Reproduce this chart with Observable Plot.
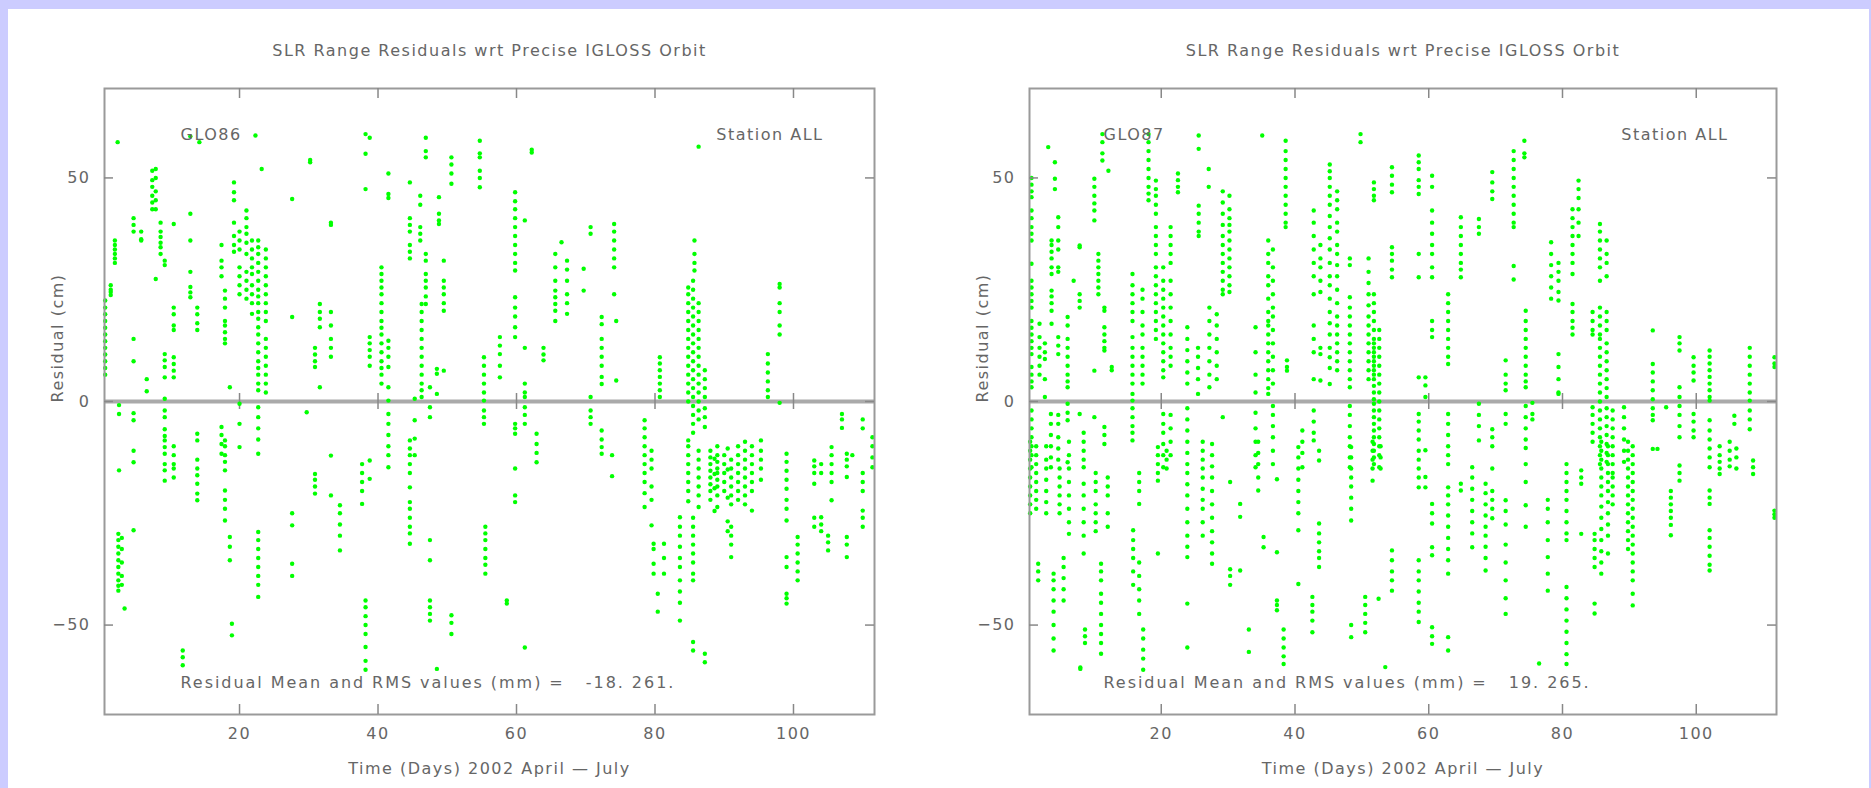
<!DOCTYPE html>
<html><head><meta charset="utf-8">
<script src="https://cdn.jsdelivr.net/npm/d3@7"></script>
<script src="https://cdn.jsdelivr.net/npm/@observablehq/plot@0.6"></script>
<style>
html,body{margin:0;padding:0;background:#ccccff;width:1871px;height:788px;overflow:hidden;}
#panel{position:absolute;left:8px;top:9px;width:1861px;height:779px;background:#fff;}
#left,#right{position:absolute;top:9px;}
#left{left:8px;} #right{left:935px;}
svg text{letter-spacing:1.5px;}
</style></head><body>
<div id="panel"></div>
<div id="left"></div><div id="right"></div>
<script>
// ---- data ----
const chartTitle = "SLR Range Residuals wrt Precise IGLOSS Orbit";
const xAxisLabel = "Time (Days) 2002 April \u2014 July";
const yAxisLabel = "Residual (cm)";
const xTicks = [20, 40, 60, 80, 100];
const yTicks = [50, 0, -50];
const yTickLabels = ["50", "0", "\u221250"];
const satellites = ["GLO86", "GLO87"];
const meanRms = ["-18. 261.", "19. 265."];

// passes: [day, residual values (cm) ...]
const glo86Passes = [
 [0.6, 22.6, 21, 19.5, 18, 16.5, 15, 13.5, 12, 10.5, 9, 7.5, 6],
 [1.4, 26, 25, 24.5, 23.8],
 [2.0, 36, 35, 34, 33, 32, 31],
 [2.4, 58],
 [2.6, -0.8, -2.8, -15.4],
 [2.5, -29.6, -31, -32.5, -34, -35.5, -37, -38.5, -40, -41.2, -42.3],
 [3.0, -30.5, -33, -36, -39, -41],
 [3.4, -46.3],
 [4.7, 41, 39.5, 38, 14, 9, -2.6, -4.2, -11, -13.6, -28.8],
 [5.8, 38, 36.3, 36],
 [6.6, 5, 2.3],
 [7.4, 51.6, 49.5, 48, 46, 44.5, 43],
 [7.9, 52, 50, 47, 45, 43, 27.4],
 [8.6, 40, 38, 36.8, 35.5, 34.5, 33],
 [9.2, 31.5, 30.5, 10.6, 9.2, 7.7, 5.4, 0.6, -2, -3.5, -6.2, -7.7, -8.7, -10.2, -11.7, -14, -15.4, -17.7],
 [10.5, 39.7, 21, 19.5, 17, 16, 9.9, 8.4, 6.9, 5.4, -10, -12, -14, -15, -17],
 [11.8, -55.7, -57.2, -59],
 [12.9, 59.3, 42, 36, 29, 25.6, 24.4, 23.3],
 [13.9, 21, 19.5, 17.5, 16, -7.2, -8.7, -13, -15, -16.5, -18.4, -20.6, -22.1],
 [14.2, 58],
 [17.4, 35, 31.5, 30, 28, -5.7, -7.5, -9.5, -11.7],
 [17.9, 24.8, 23, 21, 18, 17, 15.5, 14, 13, -8.7, -10, -12, -13.5, -15.4, -19.9, -22, -24, -26.6],
 [18.6, 3.2, -30.3, -32.5, -35.5],
 [18.9, -49.7, -52.3],
 [19.2, 49, 46.8, 45, 40, 37, 35, 33.5],
 [20.0, 38, 36, 34, 30, 28, 26, 24, -0.5, -5, -10.2],
 [21.0, 42.7, 41, 39, 37.5, 35.5, 33, 29, 27, 25, 23],
 [21.8, 36, 34, 32, 30, 28.5, 26, 24, 22, 19.6],
 [22.3, 59.5],
 [22.7, 36, 34.5, 33, 31, 29, 27, 25, 23.5, 22, 20, 18.5, 16.6, 15, 13, 11, 9, 7.5, 6, 4, 2.5, -1.3, -3.5, -6, -8.5, -11.7, -29.2, -31, -33, -35, -37, -39, -41, -43.7],
 [23.2, 52],
 [23.8, 34, 32, 30, 28, 26, 24, 22, 20, 18, 14, 12, 10, 8, 6, 4, 2],
 [27.6, 45.3, 18.9, -25, -27.7, -36.3, -39],
 [29.7, -2.4],
 [30.2, 53.5, 54],
 [30.9, 12, 10.5, 9, 7.7, -16.2, -17.5, -19, -20.6],
 [31.6, 21.8, 20, 18.5, 16.6, 3.2],
 [33.2, 40, 39.5, 20, 17, 14, 12, 10, -12.1, -21],
 [34.5, -23.2, -25, -27.5, -30, -33.3],
 [37.7, -14, -16, -18, -20, -22.9],
 [38.2, 59.8, 55.4, 47.5, -44.5, -46, -48, -50, -52, -54.9, -58, -60],
 [38.8, 59, 14.4, 13, 11.5, 10, 8, -13.2, -17.3],
 [40.5, 30, 28.5, 27, 25.5, 24, 22, 20, 18, 16.5, 15, 13, 11, 9, 7.5, 6, 4],
 [41.5, 51, 46.4, 45.5, 13.6, 12, 10, 7.7, 3.2, 0.2, -2.8, -5, -7.5, -10, -12, -14.7],
 [44.6, 49, 41, 39.5, 38, 35, 33.5, 32, -8.7, -10.5, -12, -14, -16, -19.2, -22.5, -24, -26, -28, -29.5, -31.8],
 [45.3, 0.6, -4.2, -8.3, -12],
 [46.1, 46, 44, 39, 37.5, 36],
 [46.3, 21.8, 20, 18, 16, 14, 12, 10, 8, 6, 4, 2.5, 1],
 [46.9, 59, 56, 54.6, 33, 31.5, 28.5, 27, 25.5, 23.5, 21.8],
 [47.5, 3.2, -1.3, -3.5, -31, -35.5, -44.5, -46, -47.5, -49],
 [48.5, 7.3, 6.2, 1.7, -59.8],
 [48.8, 45.7, 42, 40.5, 39.7],
 [49.5, 31.5, 27, 25.5, 24, 22, 20.3, 6.9],
 [50.6, 54.6, 53, 51, 48.7, -47.8, -49.5, -52],
 [54.7, 58.3, 55.5, 54.6, 51.6, 50, 47.9],
 [55.3, 9.9, 8, 6, 4, 2, 0.2, -2, -3.5, -5],
 [55.5, -28, -29.5, -31, -33, -35, -36.5, -38.5],
 [57.6, 14.4, 12.5, 10.6, 8, 5.4],
 [58.6, -44.5, -45.2],
 [59.8, 46.8, 44.8, 43, 41, 39, 37, 35, 33, 31, 29.3, 23.3, 21, 19, 16.6, 14.4, -5, -6, -7.2, -15, -21, -22.5],
 [61.2, 40.5, 12, 4, 2, 1, -1.3, -3, -5, -55],
 [62.2, 55.7, 56.3],
 [62.9, -7.2, -9.5, -11.5, -13.6],
 [63.9, 12, 10.5, 9.2],
 [65.6, 33, 30, 27, 24.8, 23.3, 21.8, 20.3, 18],
 [66.5, 35.6],
 [67.3, 31.5, 29.5, 27, 24, 22, 19.6],
 [69.7, 29.7, 24.8],
 [70.7, 39, 37.5, 1, -2, -3.5, -5],
 [72.3, 18.9, 17.3, 14, 12, 10, 8, 5.5, 3.9, -6.5, -8.5, -10.2, -11.7],
 [73.8, -12, -16.7],
 [74.1, 39.7, 38, 36, 34, 32, 30, 24],
 [74.4, 18, 4.7],
 [78.5, -4.2, -6, -8, -10, -12, -14, -16, -18, -20.5, -23.6],
 [79.5, -11, -13, -15, -19, -22, -27.7],
 [79.8, -31.8, -33, -36.3, -38.5],
 [80.4, -43, -47],
 [80.7, 9.9, 8.5, 7, 5.5, 4, 2.5, 1],
 [81.3, -31.8, -35, -38.5],
 [83.6, -25.9, -28, -30, -32.5, -35, -37, -40, -42.5, -45, -49],
 [84.8, 25.5, 24, 22, 20, 18, 16, 14, 12, 10, 8, 6, 4, 2, 0, -8.7, -10, -12, -14, -16, -18, -20, -22.3],
 [85.5, 27, 25, 23, 21, 19, 17, 15, 13, 11, 9, 7, 5, 3, 1, -1, -3, -5, -7, -26, -28, -30, -32, -34, -36, -38.5, -40, -53.8, -55.7],
 [85.7, 36, 33, 31, 29.3],
 [86.3, 57, 22, 20, 18, 16, 14, 12, 10, 8, 6, 4, 2, 0, -2, -4, -11, -13, -15, -17, -19, -21, -23.6],
 [87.2, 7, 5, 3, 1, -1.5, -3.5, -5.7, -56.4, -58.3],
 [88, -11, -12.5, -14, -15.5, -17, -18.5, -20, -22],
 [88.6, -12.8, -16.2, -19.4, -24.5],
 [89, -10, -12, -13.5, -15, -16, -17.5, -19, -21, -23.6],
 [90, -12, -14, -16, -18, -20],
 [90.5, -10.5, -15.2, -21.5, -26.8, -29],
 [91, -13, -15, -17, -19, -21, -23, -28, -30, -32, -34.8],
 [92, -10, -12, -14, -16, -18, -20, -22],
 [93, -9, -11, -13, -15, -17, -19, -21, -23],
 [94, -10, -12, -14, -16, -18, -20, -24.4],
 [95.3, -8.7, -11, -13, -15, -17.5],
 [96.3, 10.6, 8.5, 6.5, 4.5, 2.5, 1],
 [98, 26.3, 25.5, 22, 20, 17, 15, -0.3],
 [99, -11.7, -13.5, -15.5, -17.5, -19.5, -22, -24, -26.6, -34.8, -37, -43, -44, -45.2],
 [100.6, -30.3, -32, -34, -36, -38, -40],
 [103, -13.2, -14.5, -16, -18.4, -26, -28],
 [104, -14, -16, -25.9, -27.5, -29],
 [105, -30, -31.5, -33.3],
 [105.5, -10.2, -12, -14, -16, -18, -22.1],
 [107, -2.8, -4, -5.9],
 [107.7, -11.7, -13, -14.5, -16.9, -30.3, -32, -34.8],
 [108.5, -12],
 [110, -4, -6, -16, -18, -20, -24.4, -26, -28],
 [111.4, -8, -10, -12.5, -14.7]
];

const glo87Passes = [
 [0.6, 50, 48.5, 47, 45.7, 42.7, 41, 39, 37.5, 36, 30.8, 27, 25.5, 24, 22.5, 21, 18, 16.5, 15, 13.5, 12, 10.6, 7.7, 6, 4.5, 3.2, -2, -4, -6, -8, -10, -12, -14.7],
 [0.4, -9, -11, -13, -15, -17, -19, -21, -23, -25],
 [1.3, -10, -12, -14, -16, -18, -20, -22, -24],
 [1.6, -36.3, -38, -40],
 [1.8, 17.4, 14.4, 12, 10, 8, 6],
 [2.6, 13, 11, 9.5, 5, 1],
 [2.8, -10, -13, -15, -17.5, -20, -22.5, -25],
 [3.1, 56.9],
 [3.5, -2.8, -5, -7.5, -10, -12.5, -14.7],
 [3.6, 36, 35, 33.5, 32, 30, 28.5, 24.8, 23.5, 22, 20.3, 17.4],
 [3.9, -38.5, -40, -42, -44.5, -47, -50, -53, -55.7],
 [4.1, 53.5, 49.8, 47.5],
 [4.6, 41.2, 39, 36, 34, 30, 29, 14.4, 12.5, 10.6, -3, -5, -8, -10.5, -13],
 [4.8, -15, -17, -19, -21, -23, -25],
 [5.4, -35, -37, -39.5, -42, -44.5],
 [6.0, 18.9, 17, 14, 12, 10, 8, 6, 4.5, 3.2, -0.5, -2.5, -4.2, -13.6],
 [6.2, -9, -12, -15, -18, -21, -24, -27, -29.6],
 [6.9, 27],
 [7.8, 34.9, 34.5, 24, 22.5, 21, -2.8],
 [7.9, -59.8, -59.5],
 [8.4, -7, -9, -11, -13, -14.7, -18.4, -21, -24, -27, -30, -34],
 [8.6, -51, -52.5, -54],
 [10.0, 49.8, 48, 46, 44.3, 42.7, 40.5, 6.9, -3.5],
 [10.2, -16, -18, -20, -23, -25, -27, -29],
 [10.6, 33, 31.5, 30, 28.5, 27, 25.5, 24],
 [11.0, -36.3, -38, -40, -43, -45, -47.5, -50, -52, -54, -56.4],
 [11.2, 59.8, 58, 55.5, 53.9],
 [11.5, 21, 20.3, 16.6, 15, 13.5, 12, 11.4, -5.7, -7.5, -9.5],
 [12.0, -17, -19, -21, -25, -28],
 [12.1, 51.6],
 [12.6, 7.7, 7],
 [15.7, 28.5, 26, 24, 22, 20, 18, 14.4, 12, 10, 8, 6, 4, 1.7, 0.2, -1.5, -3.5, -5.5, -7, -8.7],
 [15.8, -28.8, -31, -33, -35, -38, -41],
 [16.7, -16, -18, -20, -22.9, -36, -39, -42, -44.5, -47.5],
 [17.2, 25, 23, 20, 17, 15, 12, 10, 8, 6, 4],
 [17.3, -51, -53, -55.5, -57.5, -60],
 [18.1, 59.8, 58, 56, 54, 52, 50, 48, 46.5, 45],
 [19.2, 49.4, 47.5, 46, 44, 42, 39, 37, 35, 33, 30, 28, 26, 24, 22, 20, 18, 16, 14],
 [19.5, -10.2, -12, -14, -16, -17.7, -34],
 [20.3, 30, 27, 25, 23, 21, 19, 17, 15, 13, 11, 9, 7, 5.4, -2.8, -5, -7, -9.5, -12, -14.7],
 [20.8, -11, -13, -15],
 [21.4, 39, 37, 35, 33, 31, 27, 24, 21, 18, 15, 12, 10, 8, -3, -6, -9, -12],
 [22.5, 51, 49.5, 48, 46.8],
 [23.9, 16.6, 14, 11.5, 9, 6.5, 4, -1.5, -4, -6.5, -9, -11.5, -14, -16, -18.5, -21, -24, -27, -30, -32.5, -34.8, -45.2, -55],
 [25.5, 12, 10, 7.5, 5, 1.7],
 [25.6, 59.5, 56.5, 43.8, 42, 40, 38, 37],
 [26.2, -9, -11, -13, -15, -17, -19.5, -22, -24, -27, -30],
 [27.1, 52, 48],
 [27.2, 21, 18, 15, 12, 9, 6, 3.2],
 [27.6, -9.5, -12, -14.5, -17, -20, -23, -26, -29, -31.5, -34, -36.3],
 [28.3, 19.5, 17, 14, 11, 8, 5],
 [29.2, 47, 44.5, 42, 39.5, 37, 35, 33, 31, 29, 27, 25, 24, -3.5],
 [30.2, 46, 43, 41, 39.5, 38, 36, 34, 32, 30, 28, 26, 24.5],
 [30.3, -18, -37.5, -39, -41],
 [31.8, -22.9, -25.8, -37.8],
 [33.1, -51, -56],
 [34.1, 16.6, 11, 6, 2, -2.5, -6, -9, -12, -14.7],
 [34.5, -9, -11.5, -14, -17, -19.9],
 [35.1, 59.5],
 [35.3, -30.3, -32.6],
 [36.0, 36, 33, 31, 28, 26, 23, 20, 18, 17, 15, 13, 11, 9, 7, 5, 3, 1.7],
 [36.7, 34, 30, 27, 24, 21, 19, 16, 13, 10, 7, 4, -1, -3, -5.5, -8, -11, -14],
 [37.3, -17.4, -33.7, -44.5, -45.5, -46.7],
 [38.3, -51, -53, -55, -57, -58.7],
 [38.6, 58.3, 56, 54, 52, 50, 48, 46, 44, 42, 40, 39],
 [38.8, 9.2, 7.7, 6.9],
 [40.5, -10.2, -12.5, -15, -17.5, -20, -22.5, -25, -28.8, -40.8],
 [41.1, -6.5, -9, -11.5, -14.7],
 [42.6, -43.7, -45.5, -47, -49, -51.6],
 [42.8, 42.7, 40, 37, 34, 31, 28, 24, 17, 14, 11, 5, -2, -4.5, -7, -8.7],
 [43.6, -11, -13.2, -27.3, -29.5, -31.5, -33.5, -35, -37],
 [43.8, 35, 32, 30, 27, 24.5, 12, 10.6, 4.7],
 [45.2, 53, 51.5, 50, 48, 46, 44, 41.5, 39, 36.5, 34, 31, 28, 26, 23, 20, 17.5, 15, 12, 9.9, 7.5, 3.9],
 [46.3, 47, 45, 43, 40, 38, 35, 33, 30.5, 28, 25, 22, 19, 17, 15, 13, 11, 9, 7],
 [48.2, 32, 30.5, 23.3, 21, 19, 17, 15, 13, 11, 9, 7, 5, 3.2, -1, -3, -5.5, -8, -10, -12.5, -14.7],
 [48.4, -10.2, -12.5, -15, -17, -19, -21.5, -24, -26.6, -50, -52.7],
 [49.8, 59.8, 58],
 [50.5, -43.7, -45.5, -47.5, -49.5, -51.6],
 [51.0, 32, 29, 26.5, 24, 21.5, 19, 17, 15, 13, 11, 9, 7, 5],
 [51.6, -9, -11, -13, -15, -17.7],
 [51.8, 49, 47.5, 46, 45, 24, 22, 20, 18, 16, 14, 13, 12, 11, 10, 9, 8, 7, 6, 5, 3.5, 2, 0.5, -0.5, -2, -3.5, -5, -6.5, -8, -9.5, -11, -12.5, -14],
 [52.5, -44.1],
 [52.6, 16, 14, 12, 10, 8, 6, 4, 2, 0, -2, -4, -6, -8, -10, -12, -14.7],
 [52.8, -10, -12.5, -15],
 [53.5, -59.4],
 [54.5, 52.4, 50.5, 48.5, 46.8, 34.5, 33, 31.5, 29.5, 27.8, -33.3, -35.5, -38, -40, -42.3],
 [58.5, 55, 53.5, 52, 49.5, 48, 46.4, 33, 27.8, 5.4, -2.8, -4.5, -6.5, -8.5, -11, -13, -15, -17, -19.2, -35.5, -38, -40, -42.5, -45, -47, -49.3],
 [59.5, 5.4, 3.6, 1, -10.9, -16.9, -19.2],
 [60.5, 50.5, 48, 42.7, 40, 37.5, 35, 33, 30, 27.8, 18, 16, 14.4, -22.9, -25, -27.3, -32.6, -34.4, -50.5, -52.5, -54.2],
 [62.9, 24, 22, 20, 18, 16, 14, 12, 10, 8.4, -2.8, -5, -7.5, -10, -12, -14, -19.2, -21, -23, -25.5, -28, -30.5, -33, -35.5, -38.5, -52.7, -55.7],
 [64.8, 41.2, 39, 37, 35, 33, 31, 29.5, 27.8, -18.4, -19.9],
 [66.5, -14.7, -17, -19.5, -22, -24.5, -27, -29.5, -32.6],
 [67.5, 40.8, 39, 37.5, -0.5, -3, -5.5, -8.7],
 [68.5, -18.4, -20.5, -23, -25.5, -28, -30, -32.5, -35, -37.8],
 [69.5, 51.3, 49, 47, 45.3, -6.2, -8, -10, -15, -20, -22, -24, -26.1],
 [71.5, 9.2, 6, 4, 2.5, -2.8, -5, -22.1, -24.5, -27.5, -32, -36, -40, -44, -47.5],
 [72.7, 56, 54, 52, 50, 48, 46, 44, 42, 40, 39, 30.3, 27.3],
 [74.3, 58.3, 55.5, 54.6],
 [74.5, 20.3, 18, 16, 14, 12, 10, 8, 6, 4.5, 3.2, -1, -3.5, -6, -8.5, -10.4, -14, -18, -23.2, -28],
 [75.5, -0.3, -2.8, -4],
 [76.5, -58.6],
 [77.8, -22, -24, -27, -31, -34.8, -38.5, -42.3],
 [78.3, 35.6, 33, 30.5, 28, 25.5, 23],
 [79.4, 31, 29, 27, 24.5, 22.6, 10.6, 7.7, 5, 2, 1.7],
 [80.6, -14, -16, -18, -20, -22, -24.5, -27, -29.5, -31, -41.5, -44, -46.5, -49, -51.5, -54, -56.5, -58.7],
 [81.5, 43, 41, 39, 37, 35, 33, 31, 28.5, 21.8, 20, 18, 16.5, 15],
 [82.4, 49.4, 47.5, 45.5, 43, 40, 37],
 [82.8, -15.4, -17, -18.4, -29.6],
 [84.5, 20, 18, 16, 15, -1.3, -3, -5, -7, -9],
 [84.8, -29.6, -31, -33, -35, -37, -45.2, -47.4],
 [85.6, 39.7, 38, 36, 34, 32, 30, 27, 21, 19, 17, 15, 14, 12, 10, 8, 6, 4, 2, 0, -2, -4, -6, -8, -10, -12, -14],
 [85.8, -9, -11, -13, -15, -17, -19, -21, -23.5, -26, -28.5, -31, -33.5, -36, -38.5],
 [86.6, 36, 33, 31, 28, 20, 18, 16, 13, 11, 9, 7, 5, 3, 1, -1.5, -3.5, -5.5, -7.5, -9.5, -11.5, -13.5],
 [86.8, -10, -12, -14, -16, -18, -20, -22.5, -25, -27.5, -30, -34],
 [87.5, -2, -4, -6, -8, -10, -12, -14, -16, -17, -19, -21, -23],
 [89.2, -1.3, -3.5, -6, -8.5, -11, -13.5],
 [89.8, -9, -11, -13, -15, -17, -19, -21, -23, -25, -27, -29, -31, -33],
 [90.5, -10, -12, -14, -16, -18, -20, -22, -24, -26, -28, -30, -32, -34, -36, -38, -40, -43, -45.6],
 [93.5, 15.9, 8.4, 6.5, 4.5, 2.5, 0.5, -1.5, -3, -4.2, -10.6],
 [94.2, -10.6],
 [95.5, -1.3],
 [96.2, -20, -21.5, -23, -24.5, -26, -27.6, -29.9],
 [97.5, 14.4, 13, 11.4, 3.2, 1, -1, -3, -5.5, -8, -14.3, -16, -17.7],
 [99.6, 9.9, 8, 6.5, 4.7, -2.8, -4.5, -6.5, -8],
 [102, 11.4, 10, 8.5, 7, 5.5, 4, 2.5, 1, 0.2, -4.2, -6.5, -8.5, -10.5, -12.5, -14.7, -19.9, -21.5, -22.9, -28.8, -30.5, -32.5, -34.5, -36.5, -37.8],
 [103.5, -10, -12, -13.5, -15, -16.2],
 [105, -9, -11, -13, -14.5],
 [105.7, -3.2, -5],
 [106, -10.5, -12.5, -15],
 [108, 12, 10, 8, 6, 4, 2, 0.2, -2, -4, -6.2],
 [108.5, -13.2, -14.7, -16.2],
 [111.7, 9.9, 8.5, 7.7, -24.4, -25.2, -26]
];

// ---- drawing ----
const H = 779, MT = 79, MB = 74;
const yDomain = [-70, 70];
const FONT = "DejaVu Sans, sans-serif";
const TXT = "#666";
const STAT_PREFIX = "Residual Mean and RMS values (mm) =   ";

function panel(passes, cfg) {
  const data = passes.flatMap(([day, ...vals]) => vals.map(v => ({day, res: v})));
  const [xa, xb] = cfg.xDomain;
  const innerW = cfg.width - cfg.ml - cfg.mr;
  const innerH = H - MT - MB;
  const pxX = innerW / (xb - xa), pxY = innerH / (yDomain[1] - yDomain[0]);
  const tlx = 9 / pxX, tly = 10 / pxY, tlz = 8 / pxY;
  const t = {fill: TXT, fontSize: 16, fontFamily: FONT};
  const svg = Plot.plot({
    width: cfg.width, height: H,
    marginLeft: cfg.ml, marginRight: cfg.mr, marginTop: MT, marginBottom: MB,
    x: {domain: cfg.xDomain, axis: null},
    y: {domain: yDomain, axis: null},
    style: {background: "transparent", overflow: "visible"},
    marks: [
      Plot.ruleY([0], {stroke: "#aaa", strokeWidth: 4}),
      Plot.ruleX(xTicks, {x: d => d, y1: () => -tlz, y2: () => tlz, stroke: "#888", strokeWidth: 1.5}),
      Plot.dot(data, {x: "day", y: "res", r: 2.2, fill: "#00ff00"}),
      Plot.frame({stroke: "#9a9a9a", strokeWidth: 2}),
      Plot.ruleX(xTicks, {x: d => d, y1: () => yDomain[0], y2: () => yDomain[0] + tly, stroke: "#888", strokeWidth: 1.5}),
      Plot.ruleX(xTicks, {x: d => d, y1: () => yDomain[1], y2: () => yDomain[1] - tly, stroke: "#888", strokeWidth: 1.5}),
      Plot.ruleY(yTicks, {y: d => d, x1: () => xa, x2: () => xa + tlx, stroke: "#888", strokeWidth: 1.5}),
      Plot.ruleY(yTicks, {y: d => d, x1: () => xb, x2: () => xb - tlx, stroke: "#888", strokeWidth: 1.5}),
      Plot.text(xTicks, {x: d => d, y: () => yDomain[0], dy: 19, text: d => String(d), ...t}),
      Plot.text(yTicks, {x: () => xa, y: d => d, dx: -14, text: (d, i) => yTickLabels[i], textAnchor: "end", ...t}),
      Plot.text([chartTitle], {frameAnchor: "top", dy: -44, ...t}),
      Plot.text([cfg.sat], {frameAnchor: "top-left", dx: cfg.satDx, dy: 40, textAnchor: "start", ...t}),
      Plot.text(["Station ALL"], {frameAnchor: "top-right", dx: cfg.stDx, dy: 40, textAnchor: "end", ...t}),
      Plot.text([STAT_PREFIX + cfg.stat], {frameAnchor: "bottom-left", dx: cfg.satDx, dy: -27, textAnchor: "start", ...t}),
      Plot.text([xAxisLabel], {frameAnchor: "bottom", dy: 59, ...t}),
      Plot.text([yAxisLabel], {frameAnchor: "left", dx: -47, dy: 1, rotate: -90, ...t})
    ]
  });
  d3.select(svg).selectAll("text")
    .filter(function() { return this.textContent.startsWith("Residual Mean"); })
    .style("letter-spacing", "1.95px");
  return svg;
}

document.getElementById("left").append(panel(glo86Passes, {
  width: 927, ml: 96, mr: 61, xDomain: [0.5, 111.7], sat: satellites[0], stat: meanRms[0], satDx: 76, stDx: -51
}));
document.getElementById("right").append(panel(glo87Passes, {
  width: 934, ml: 94, mr: 93, xDomain: [0.3, 112], sat: satellites[1], stat: meanRms[1] , satDx: 74, stDx: -48
}));
</script>
</body></html>
